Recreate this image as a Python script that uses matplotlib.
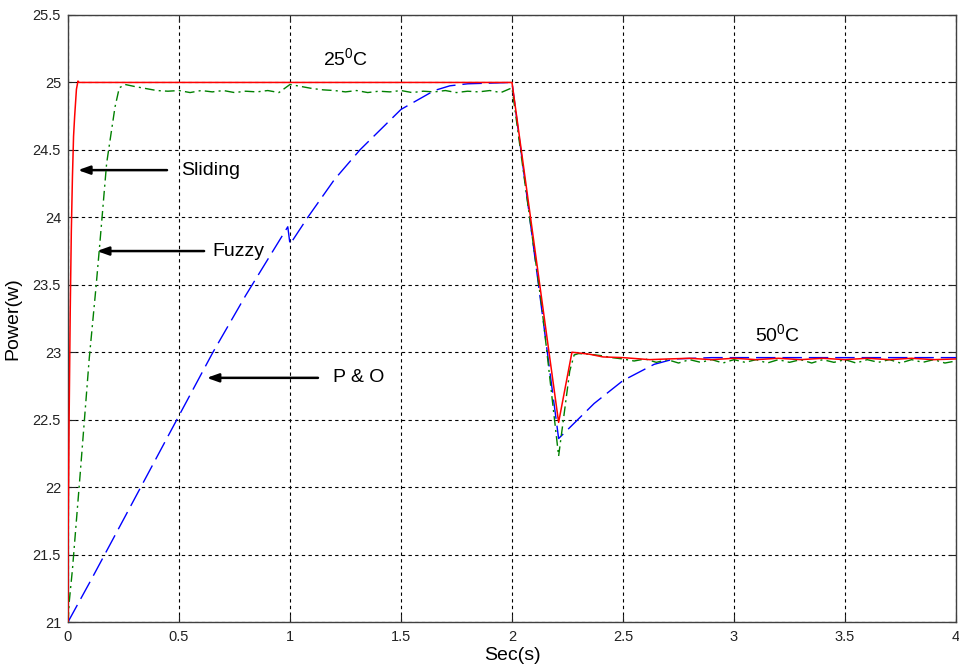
import matplotlib
matplotlib.use("Agg")
import matplotlib.pyplot as plt
import numpy as np

plt.rcParams['font.family'] = ['Liberation Sans', 'DejaVu Sans']
plt.rcParams['mathtext.fontset'] = 'custom'
plt.rcParams['mathtext.rm'] = 'Liberation Sans'
plt.rcParams['mathtext.default'] = 'regular'

# ---- data ----
# Sliding mode controller (red)
t_sliding = [0, 0.0005, 0.005, 0.01, 0.015, 0.02, 0.025, 0.03, 0.038, 0.045, 0.05,
             2.0, 2.21, 2.27, 2.35, 2.41, 2.5, 2.62, 2.7, 2.8, 2.9, 3.0, 3.1, 3.2,
             3.3, 3.4, 3.5, 3.6, 3.7, 3.8, 3.9, 4.0]
p_sliding = [21.0, 21.6, 22.5, 23.3, 23.9, 24.3, 24.6, 24.75, 24.95, 25.01, 25.0,
             25.0, 22.48, 23.0, 22.985, 22.965, 22.96, 22.945, 22.95, 22.955, 22.945, 22.955, 22.945, 22.955,
             22.945, 22.955, 22.945, 22.955, 22.945, 22.955, 22.945, 22.95]

# Fuzzy controller (green)
t_fuzzy = [0, 0.005, 0.02, 0.054, 0.096, 0.126, 0.141, 0.156, 0.174, 0.192, 0.212, 0.231,
           0.257, 0.3, 0.35, 0.4, 0.45, 0.5, 0.55, 0.6, 0.65, 0.7, 0.75, 0.8, 0.85, 0.9,
           0.95, 1.0, 1.05, 1.1, 1.15, 1.2, 1.25, 1.3, 1.35, 1.4, 1.45, 1.5, 1.55, 1.6,
           1.65, 1.7, 1.75, 1.8, 1.85, 1.9, 1.95, 2.0, 2.134, 2.21, 2.26, 2.28, 2.3,
           2.35, 2.4, 2.45, 2.5, 2.55, 2.6, 2.65, 2.7, 2.75, 2.8, 2.85, 2.9, 2.95, 3.0,
           3.05, 3.1, 3.15, 3.2, 3.25, 3.3, 3.35, 3.4, 3.45, 3.5, 3.55, 3.6, 3.65, 3.7,
           3.75, 3.8, 3.85, 3.9, 3.95, 4.0]
p_fuzzy = [21.0, 21.14, 21.39, 22.08, 22.96, 23.48, 23.76, 24.05, 24.4, 24.6, 24.82, 24.96,
           24.985, 24.97, 24.955, 24.94, 24.935, 24.94, 24.925, 24.94, 24.93, 24.94, 24.925, 24.935, 24.93, 24.94,
           24.925, 24.985, 24.97, 24.955, 24.945, 24.94, 24.93, 24.94, 24.925, 24.935, 24.93, 24.94, 24.925, 24.935,
           24.93, 24.94, 24.925, 24.935, 24.93, 24.94, 24.925, 24.96, 23.34, 22.23, 22.86, 22.98, 22.99,
           22.985, 22.975, 22.96, 22.95, 22.935, 22.95, 22.925, 22.945, 22.92, 22.945, 22.925, 22.945, 22.92, 22.945,
           22.925, 22.945, 22.92, 22.945, 22.925, 22.945, 22.92, 22.945, 22.925, 22.945, 22.92, 22.945, 22.925, 22.945,
           22.92, 22.945, 22.925, 22.945, 22.92, 22.935]

# P & O controller (blue)
t_po = [0, 0.1, 0.25, 0.5, 0.653, 0.8, 0.99, 1.0, 1.08, 1.2, 1.315, 1.5, 1.65, 1.72,
        1.8, 1.9, 2.0, 2.21, 2.37, 2.5, 2.64, 2.73, 2.9, 3.2, 3.6, 4.0]
p_po = [21.0, 21.3, 21.76, 22.53, 23.0, 23.42, 23.93, 23.8, 24.0, 24.28, 24.5, 24.8, 24.94, 24.975,
        24.99, 24.995, 25.0, 22.36, 22.62, 22.79, 22.91, 22.95, 22.96, 22.96, 22.96, 22.96]

x_ticks = [0, 0.5, 1, 1.5, 2, 2.5, 3, 3.5, 4]
x_tick_labels = ['0', '0.5', '1', '1.5', '2', '2.5', '3', '3.5', '4']
y_ticks = [21, 21.5, 22, 22.5, 23, 23.5, 24, 24.5, 25, 25.5]
y_tick_labels = ['21', '21.5', '22', '22.5', '23', '23.5', '24', '24.5', '25', '25.5']

# ---- figure ----
fig = plt.figure(figsize=(9.59, 6.72), dpi=100)
ax = fig.add_axes([68/959, 50/672, 888/959, 607/672])

ax.plot(t_po, p_po, color='#0000ff', lw=1.0, linestyle=(0, (14, 5)), zorder=3)
ax.plot(t_fuzzy, p_fuzzy, color='#008000', lw=1.0, linestyle=(0, (7, 3, 1.5, 3)), zorder=4)
ax.plot(t_sliding, p_sliding, color='#ff0000', lw=1.1, zorder=5)

ax.set_xlim(0, 4)
ax.set_ylim(21, 25.5)
ax.set_xticks(x_ticks)
ax.set_xticklabels(x_tick_labels)
ax.set_yticks(y_ticks)
ax.set_yticklabels(y_tick_labels)
ax.tick_params(direction='in', length=5, width=0.8, labelsize=10.5, colors='#222222',
               top=True, right=True)
ax.tick_params(axis='x', pad=6)
ax.tick_params(axis='y', pad=5)
ax.grid(True, color='black', linestyle=(0, (3, 3)), linewidth=0.8, zorder=1)
ax.set_axisbelow(True)
for s in ax.spines.values():
    s.set_color('#404040')
    s.set_linewidth(1.0)

ax.set_xlabel('Sec(s)', fontsize=14, labelpad=2)
ax.set_ylabel('Power(w)', fontsize=14, labelpad=8)

# annotations
arrow_kw = dict(arrowstyle='-|>,head_length=0.7,head_width=0.25', color='black', lw=1.8,
                shrinkA=0, shrinkB=0)
ax.annotate('', xy=(0.045, 24.35), xytext=(0.446, 24.35), arrowprops=arrow_kw)
ax.text(0.509, 24.35, 'Sliding', fontsize=14, va='center', ha='left')
ax.annotate('', xy=(0.13, 23.75), xytext=(0.613, 23.75), arrowprops=arrow_kw)
ax.text(0.649, 23.75, 'Fuzzy', fontsize=14, va='center', ha='left')
ax.annotate('', xy=(0.625, 22.81), xytext=(1.126, 22.81), arrowprops=arrow_kw)
ax.text(1.194, 22.81, 'P & O', fontsize=14, va='center', ha='left')

ax.text(1.252, 25.13, r'25$^0$C', fontsize=14, ha='center', va='baseline')
ax.text(3.198, 23.08, r'50$^0$C', fontsize=14, ha='center', va='baseline')

fig.savefig('out.png', dpi=100)
